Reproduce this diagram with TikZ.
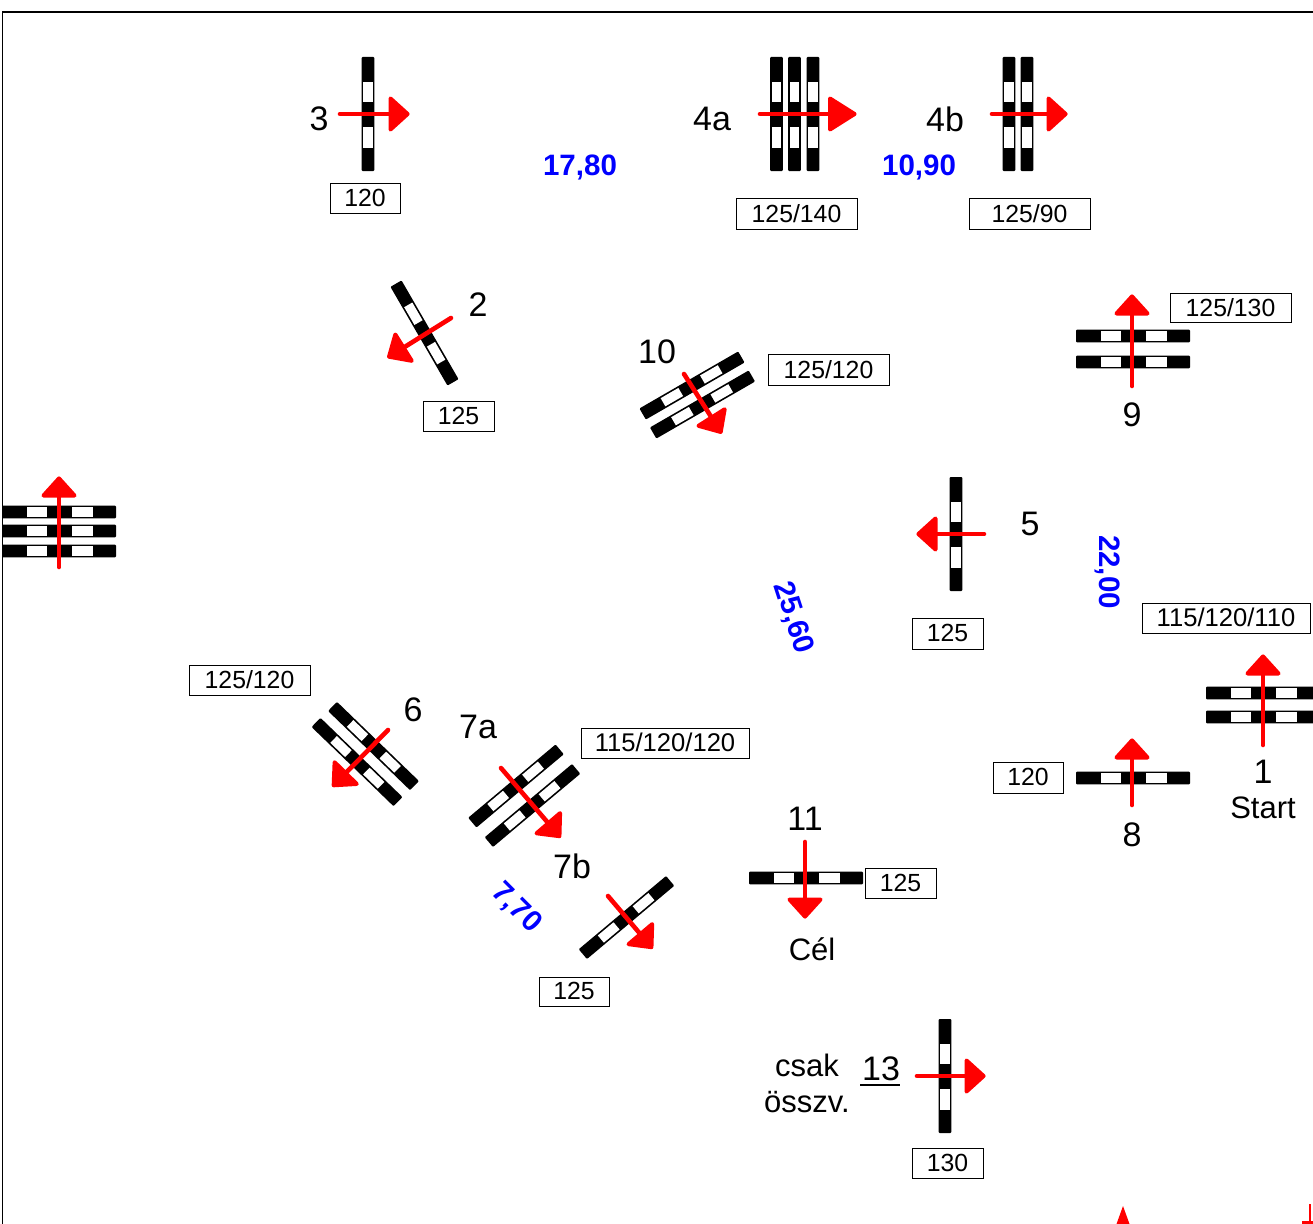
\documentclass[tikz,border=0pt]{standalone}
\usepackage{fontspec}
\setmainfont{Liberation Sans}
\definecolor{arrowred}{RGB}{255,0,0}
\definecolor{distblue}{RGB}{0,0,255}
\tikzset{
  x=1pt,y=-1pt,
  gatebar/.pic={
    \fill[black,rounded corners=1pt] (-6.4,-57) rectangle (6.4,57);
    \fill[white] (-4.7,-32.5) rectangle (4.7,-12);
    \fill[white] (-4.7,13) rectangle (4.7,33.5);
  },
  railshaft/.style={draw=arrowred,line width=4.6pt,line cap=round},
  railhead/.style={draw=arrowred,fill=arrowred,line width=4pt,line join=round},
  speedbox/.style={draw=black,line width=0.8pt,fill=white,inner sep=0pt,font=\fontsize{24.8}{24.8}\selectfont,anchor=center},
  numlabel/.style={inner sep=0pt,font=\fontsize{34}{34}\selectfont,anchor=center},
  textlabel/.style={inner sep=0pt,font=\fontsize{31}{31}\selectfont,anchor=center},
  distlabel/.style={inner sep=0pt,text=distblue,font=\fontsize{29.5}{29.5}\selectfont\bfseries,anchor=center},
}
\newcommand{\speedsign}[6]{% name x1 y1 x2 y2 text
  \node[speedbox,minimum width=#4 pt-#2 pt,minimum height=#5 pt-#3 pt] (#1) at ({(#2+#4)/2},{(#3+#5)/2}) {\raisebox{0.8pt}{#6}};}
\newcommand{\railarr}[6][19.5]{% [head base] name x1 y1 x2 y2
  \pgfmathsetmacro{\arrang}{atan2(#6-#4,#5-#3)}
  \coordinate (#2s) at (#3,#4);
  \coordinate (#2e) at (#5,#6);
  \begin{scope}[shift={(#2e)},rotate=-\arrang]
    \coordinate (#2b) at (-17,0);
    \draw[railhead] (-2.4,0) -- (-#1,-15.5) -- (-#1,15.5) -- cycle;
  \end{scope}
  \draw[railshaft] (#2s) -- (#2b);}
\begin{document}
\begin{tikzpicture}
\useasboundingbox (0,0) rectangle (1313,1223);
\clip (0,0) rectangle (1313,1223);
\fill[white] (0,0) rectangle (1313,1223);
% frame
\draw[black,line width=1.6pt] (2.5,1230) -- (2.5,12) -- (1320,12);
% gates
\pic at (368,114) {gatebar};
\pic at (776.5,114) {gatebar};
\pic at (794.5,114) {gatebar};
\pic at (813,114) {gatebar};
\pic at (1009,114) {gatebar};
\pic at (1027,114) {gatebar};
\pic[rotate=30] at (424.5,333) {gatebar};
\pic[rotate=-60] at (692,385.5) {gatebar};
\pic[rotate=-60] at (702.5,404.5) {gatebar};
\pic[rotate=90] at (1133,336) {gatebar};
\pic[rotate=90] at (1133,362) {gatebar};
\pic at (956,534) {gatebar};
\pic[rotate=90] at (59,512) {gatebar};
\pic[rotate=90] at (59,531) {gatebar};
\pic[rotate=90] at (59,551) {gatebar};
\pic[rotate=46] at (373.5,746) {gatebar};
\pic[rotate=46] at (357,762) {gatebar};
\pic[rotate=-50] at (516,786) {gatebar};
\pic[rotate=-50] at (532.5,805.5) {gatebar};
\pic[rotate=-50] at (626.5,917.5) {gatebar};
\pic[rotate=90] at (806,878) {gatebar};
\pic[rotate=90] at (1263,693) {gatebar};
\pic[rotate=90] at (1263,717) {gatebar};
\pic[rotate=90] at (1133,778) {gatebar};
\pic at (945,1076) {gatebar};
% arrows
\railarr{a3}{340}{114}{410}{114}
\railarr[27]{a4a}{760}{114}{857}{114}
\railarr{a4b}{992}{114}{1068}{114}
\railarr{a2}{451}{318}{387}{358}
\railarr{a10}{684}{374}{722}{434}
\railarr{a9}{1132}{386}{1132}{294}
\railarr{a5}{984}{534}{916}{534}
\railarr{a0}{59}{567}{59}{476}
\railarr{a6}{388}{730}{332}{787}
\railarr{a7a}{501}{768}{561}{838}
\railarr{a7b}{608}{896}{653}{949}
\railarr{a11}{805}{842}{805}{919}
\railarr{a1}{1263}{745}{1263}{654}
\railarr{a8}{1132}{805}{1132}{738}
\railarr{a13}{917}{1076}{986}{1076}
% cut-off marks at the lower edge
\fill[arrowred] (1123,1206) -- (1129.5,1224) -- (1116.5,1224) -- cycle;
\draw[arrowred,line width=1.4pt] (1310,1204) -- (1310,1222);
\draw[arrowred,line width=2.4pt] (1302,1222.5) -- (1314,1222.5);
% speed boxes
\speedsign{b3}{330}{183}{400}{213}{120}
\speedsign{b4a}{736}{198}{857}{229}{125/140}
\speedsign{b4b}{969}{198}{1090}{229}{125/90}
\speedsign{b9}{1170}{293}{1291}{322}{125/130}
\speedsign{b10}{768}{354}{889}{385}{125/120}
\speedsign{b2}{423}{401}{494}{431}{125}
\speedsign{b5}{912}{618}{983}{649}{125}
\speedsign{b1}{1142}{603}{1310}{633}{\fontsize{25.6}{25.6}\selectfont 115/120/110}
\speedsign{b6}{189}{665}{310}{695}{125/120}
\speedsign{b7a}{581}{728}{749}{758}{\fontsize{25.6}{25.6}\selectfont 115/120/120}
\speedsign{b8}{993}{762}{1063}{793}{120}
\speedsign{b11}{865}{868}{936}{898}{125}
\speedsign{b7b}{539}{977}{609}{1006}{125}
\speedsign{b13}{912}{1148}{983}{1178}{130}
% numbers
\node[numlabel] (l3) at (319,119) {3};
\node[numlabel] (l4a) at (712,119) {4a};
\node[numlabel] (l4b) at (945,119) {4b};
\node[numlabel] (l2) at (478,305) {2};
\node[numlabel] (l10) at (657,352) {10};
\node[numlabel] (l9) at (1132,415) {9};
\node[numlabel] (l5) at (1030,524) {5};
\node[numlabel] (l6) at (413,710) {6};
\node[numlabel] (l7a) at (478,727) {7a};
\node[numlabel] (l7b) at (572,866) {7b};
\node[numlabel] (l11) at (805,819) {11};
\node[numlabel] (l8) at (1132,835) {8};
\node[numlabel] (l1) at (1263,772) {1};
\node[numlabel] (l13) at (881,1069) {13};
\draw[black,line width=2.4pt] (860,1085) -- (900,1085);
\node[textlabel] (lstart) at (1263,808) {Start};
\node[textlabel] (lcel) at (812,949) {Cél};
\node[textlabel] (lcsak) at (807,1065.5) {csak};
\node[textlabel] (losszv) at (807,1102) {összv.};
% distances
\node[distlabel] (d1) at (580,167) {17,80};
\node[distlabel] (d2) at (919,167) {10,90};
\node[distlabel,rotate=-90] (d3) at (1107.5,572) {22,00};
\node[distlabel,rotate=-72] (d4) at (793,618) {25,60};
\node[distlabel,rotate=-45] (d5) at (516,908) {7,70};
\end{tikzpicture}
\end{document}
